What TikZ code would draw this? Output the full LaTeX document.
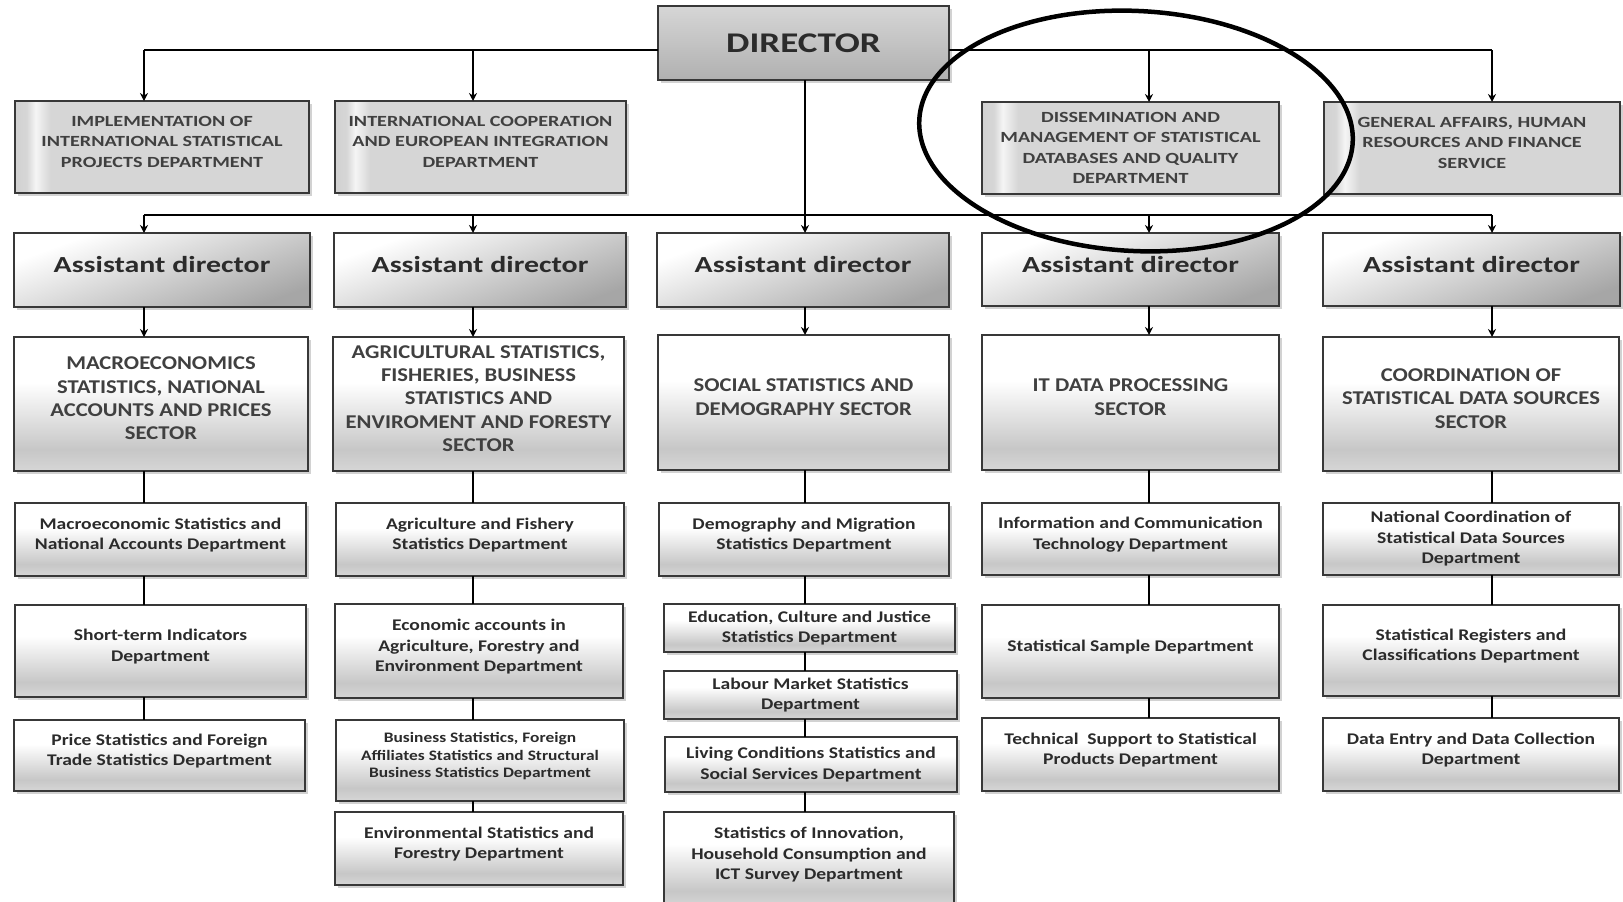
\documentclass[tikz,border=0pt]{standalone}
\usepackage{fontspec}
\setmainfont{Carlito}
\newfontfamily\fw{Carlito}[FakeStretch=1.3]
\newfontfamily\fs{Carlito}[FakeStretch=1.16]
\newfontfamily\fd{Carlito}[FakeStretch=1.2]
\usetikzlibrary{shadows,arrows.meta,calc}
\definecolor{bord}{HTML}{383838}
\definecolor{txt}{HTML}{2B2B2B}
\definecolor{txtL}{HTML}{404040}
\pgfdeclareverticalshading{deptshade}{100bp}{color(0bp)=(gray!32); color(25bp)=(gray!32); color(33bp)=(gray!44); color(58bp)=(white); color(100bp)=(white)}
\pgfdeclarehorizontalshading{topshade}{100bp}{color(0bp)=(gray!36); color(25bp)=(gray!36); color(27bp)=(gray!32); color(28.5bp)=(gray!8); color(31bp)=(gray!32); color(100bp)=(gray!32)}
\pgfdeclareverticalshading{asshade}{100bp}{color(0bp)=(gray!70); color(25bp)=(gray!70); color(72bp)=(white); color(100bp)=(white)}
\pgfdeclareverticalshading{dirshade}{100bp}{color(0bp)=(gray!62); color(25bp)=(gray!62); color(75bp)=(gray!32); color(100bp)=(gray!32)}
% box from (x1,y1) to (x2,y2); text lifted slightly above centre
\newcommand\bx[7]{\node[#1, minimum width={#4-#2}, minimum height={#5-#3}] (#6) at ({(#2+#4)/2},{(#3+#5)/2}) {#7\rule[-11pt]{0pt}{1pt}};}
% same, text centred
\newcommand\bxc[7]{\node[#1, minimum width={#4-#2}, minimum height={#5-#3}] (#6) at ({(#2+#4)/2},{(#3+#5)/2}) {#7};}
\begin{document}
\begin{tikzpicture}[x=1pt,y=-1pt,
  box/.style={draw=bord, line width=1.7pt, inner sep=0pt, outer sep=0pt, align=center, text=txt,
    drop shadow={shadow xshift=2.5pt, shadow yshift=-2.5pt, opacity=0.35}},
  dirbox/.style={box, shading=dirshade, font=\fw\bfseries\fontsize{28.5}{31}\selectfont},
  topbox/.style={box, shading=topshade, text=txtL, font=\fw\bfseries\fontsize{15.5}{20.5}\selectfont},
  asbox/.style={box, shading=asshade, shading angle=20, font=\fw\bfseries\fontsize{23}{26}\selectfont},
  secbox/.style={box, shading=deptshade, text=txtL, font=\fs\bfseries\fontsize{19.5}{23.3}\selectfont},
  deptbox/.style={box, shading=deptshade, font=\fd\bfseries\fontsize{16.3}{20.5}\selectfont},
  smallbox/.style={deptbox, font=\fd\bfseries\fontsize{14.5}{17.5}\selectfont},
  conn/.style={line width=2pt, black},
  arr/.style={conn, -{Stealth[length=8pt,width=8pt]}}]
\useasboundingbox (0,0) rectangle (1623,902);
\fill[white] (0,0) rectangle (1623,902);
% column positions and bus heights
\coordinate (c1) at (144,0);
\coordinate (c2) at (473,0);
\coordinate (c3) at (805,0);
\coordinate (c4) at (1149,0);
\coordinate (c5) at (1492,0);
\coordinate (ytop) at (0,50);
\coordinate (ymid) at (0,215);
% director
\bxc{dirbox}{658}{6}{949}{80}{dir}{DIRECTOR}
% top departments
\bx{topbox}{15}{101}{309}{193}{imp}{IMPLEMENTATION OF\\INTERNATIONAL STATISTICAL\\PROJECTS DEPARTMENT}
\bx{topbox}{335}{101}{626}{193}{intl}{INTERNATIONAL COOPERATION\\AND EUROPEAN INTEGRATION\\DEPARTMENT}
\bxc{topbox}{982}{102}{1279}{194}{diss}{DISSEMINATION AND\\MANAGEMENT OF STATISTICAL\\DATABASES AND QUALITY\\DEPARTMENT}
\bx{topbox}{1324}{102}{1620}{194}{gen}{GENERAL AFFAIRS, HUMAN\\RESOURCES AND FINANCE\\SERVICE}
% assistant directors
\bx{asbox}{14}{233}{310}{307}{as1}{Assistant director}
\bx{asbox}{334}{233}{626}{307}{as2}{Assistant director}
\bx{asbox}{657}{233}{949}{307}{as3}{Assistant director}
\bx{asbox}{982}{233}{1279}{306}{as4}{Assistant director}
\bx{asbox}{1323}{233}{1620}{306}{as5}{Assistant director}
% sectors
\bx{secbox}{14}{337}{308}{471}{s1}{MACROECONOMICS\\STATISTICS, NATIONAL\\ACCOUNTS AND PRICES\\SECTOR}
\bx{secbox}{333}{337}{624}{471}{s2}{AGRICULTURAL STATISTICS,\\FISHERIES, BUSINESS\\STATISTICS AND\\ENVIROMENT AND FORESTY\\SECTOR}
\bx{secbox}{658}{335}{949}{470}{s3}{SOCIAL STATISTICS AND\\DEMOGRAPHY SECTOR}
\bx{secbox}{982}{335}{1279}{470}{s4}{IT DATA PROCESSING\\SECTOR}
\bx{secbox}{1323}{337}{1619}{471}{s5}{COORDINATION OF\\STATISTICAL DATA SOURCES\\SECTOR}
% column 1 departments
\bx{deptbox}{15}{503}{306}{576}{d11}{Macroeconomic Statistics and\\National Accounts Department}
\bx{deptbox}{15}{605}{306}{697}{d12}{Short-term Indicators\\Department}
\bx{deptbox}{14}{720}{305}{791}{d13}{Price Statistics and Foreign\\Trade Statistics Department}
% column 2
\bx{deptbox}{336}{503}{624}{576}{d21}{Agriculture and Fishery\\Statistics Department}
\bx{deptbox}{335}{604}{623}{698}{d22}{Economic accounts in\\Agriculture, Forestry and\\Environment Department}
\bx{smallbox}{336}{720}{624}{801}{d23}{Business Statistics, Foreign\\Affiliates Statistics and Structural\\Business Statistics Department}
\bx{deptbox}{335}{812}{623}{885}{d24}{Environmental Statistics and\\Forestry Department}
% column 3
\bx{deptbox}{659}{503}{949}{576}{d31}{Demography and Migration\\Statistics Department}
\bxc{deptbox}{664}{604}{955}{652}{d32}{Education, Culture and Justice\\Statistics Department}
\bxc{deptbox}{664}{671}{957}{719}{d33}{Labour Market Statistics\\Department}
\bxc{deptbox}{665}{737}{957}{792}{d34}{Living Conditions Statistics and\\Social Services Department}
\bx{deptbox}{664}{812}{954}{906}{d35}{Statistics of Innovation,\\Household Consumption and\\ICT Survey Department}
% column 4
\bx{deptbox}{982}{503}{1279}{575}{d41}{Information and Communication\\Technology Department}
\bx{deptbox}{982}{605}{1279}{698}{d42}{Statistical Sample Department}
\bx{deptbox}{982}{718}{1279}{791}{d43}{Technical\ \ Support to Statistical\\Products Department}
% column 5
\bxc{deptbox}{1323}{503}{1619}{575}{d51}{National Coordination of\\Statistical Data Sources\\Department}
\bx{deptbox}{1323}{605}{1619}{696}{d52}{Statistical Registers and\\Classifications Department}
\bx{deptbox}{1323}{718}{1619}{791}{d53}{Data Entry and Data Collection\\Department}
% director top bus
\draw[conn] (c1 |- ytop) -- (dir.west |- ytop);
\draw[conn] (dir.east |- ytop) -- (c5 |- ytop);
\draw[arr] (c1 |- ytop) -- (c1 |- imp.north);
\draw[arr] (c2 |- ytop) -- (c2 |- intl.north);
\draw[arr] (c4 |- ytop) -- (c4 |- diss.north);
\draw[arr] (c5 |- ytop) -- (c5 |- gen.north);
% director down to assistants
\draw[conn] (c1 |- ymid) -- (c5 |- ymid);
\draw[arr] (c3 |- dir.south) -- (c3 |- as3.north);
\draw[arr] (c1 |- ymid) -- (c1 |- as1.north);
\draw[arr] (c2 |- ymid) -- (c2 |- as2.north);
\draw[arr] (c4 |- ymid) -- (c4 |- as4.north);
\draw[arr] (c5 |- ymid) -- (c5 |- as5.north);
% assistants to sectors
\foreach \i in {1,...,5}{
  \draw[arr] (c\i |- as\i.south) -- (c\i |- s\i.north);
}
% sectors to departments
\draw[conn] (c1 |- s1.south) -- (c1 |- d11.north);
\draw[conn] (c1 |- d11.south) -- (c1 |- d12.north);
\draw[conn] (c1 |- d12.south) -- (c1 |- d13.north);
\draw[conn] (c2 |- s2.south) -- (c2 |- d21.north);
\draw[conn] (c2 |- d21.south) -- (c2 |- d22.north);
\draw[conn] (c2 |- d22.south) -- (c2 |- d23.north);
\draw[conn] (c2 |- d23.south) -- (c2 |- d24.north);
\draw[conn] (c3 |- s3.south) -- (c3 |- d31.north);
\draw[conn] (c3 |- d31.south) -- (c3 |- d32.north);
\draw[conn] (c3 |- d32.south) -- (c3 |- d33.north);
\draw[conn] (c3 |- d33.south) -- (c3 |- d34.north);
\draw[conn] (c3 |- d34.south) -- (c3 |- d35.north);
\draw[conn] (c4 |- s4.south) -- (c4 |- d41.north);
\draw[conn] (c4 |- d41.south) -- (c4 |- d42.north);
\draw[conn] (c4 |- d42.south) -- (c4 |- d43.north);
\draw[conn] (c5 |- s5.south) -- (c5 |- d51.north);
\draw[conn] (c5 |- d51.south) -- (c5 |- d52.north);
\draw[conn] (c5 |- d52.south) -- (c5 |- d53.north);
% highlight ellipse
\draw[line width=4.5pt, black, rotate around={-3:(1136,131)}] (1136,131) ellipse [x radius=217, y radius=120];
\end{tikzpicture}
\end{document}
